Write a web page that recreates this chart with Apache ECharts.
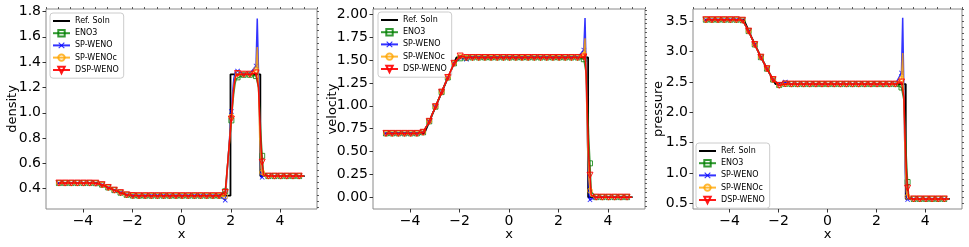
<!DOCTYPE html>
<html><head><meta charset="utf-8">
<script src="https://cdn.jsdelivr.net/npm/echarts@6/dist/echarts.min.js"></script>
<style>html,body{margin:0;padding:0;background:#fff}#c{width:969px;height:247px}</style>
</head><body><div id="c"></div>
<script>
// ---------- DATA ----------
// marker positions (every 5th cell centre)
const MARK_X = [-4.975,-4.725,-4.475,-4.225,-3.975,-3.725,-3.475,-3.225,-2.975,-2.725,-2.475,-2.225,-1.975,-1.725,-1.475,-1.225,-0.975,-0.725,-0.475,-0.225,0.025,0.275,0.525,0.775,1.025,1.275,1.525,1.775,2.025,2.275,2.525,2.775,3.025,3.275,3.525,3.775,4.025,4.275,4.525,4.775];

// reference solution
const REF_X        = [-5, -3.424, -3.1, -2.8, -2.5, -2.127, 1.988, 1.988, 3.2, 3.2, 5];
const REF_DENSITY  = [0.445, 0.445, 0.418, 0.394, 0.371, 0.345, 0.345, 1.304, 1.304, 0.5, 0.5];
const REF_VELOCITY = [0.698, 0.698, 0.906, 1.098, 1.290, 1.529, 1.529, 1.529, 1.529, 0, 0];
const REF_PRESSURE = [3.528, 3.528, 3.232, 2.977, 2.738, 2.466, 2.466, 2.466, 2.466, 0.571, 0.571];

// density at marker positions
const DENSITY_ENO3   = [0.445,0.445,0.445,0.445,0.445,0.445,0.444,0.432,0.410,0.389,0.369,0.352,0.346,0.345,0.345,0.345,0.345,0.345,0.345,0.345,0.345,0.345,0.345,0.345,0.345,0.345,0.345,0.38,0.94,1.28,1.30,1.30,1.29,0.66,0.5,0.5,0.5,0.5,0.5,0.5];
const DENSITY_SPWENO = [0.445,0.445,0.445,0.445,0.445,0.445,0.444,0.432,0.410,0.389,0.369,0.352,0.346,0.345,0.345,0.345,0.345,0.345,0.345,0.345,0.345,0.345,0.345,0.345,0.345,0.345,0.345,0.31,1.01,1.33,1.305,1.31,1.37,0.49,0.5,0.5,0.5,0.5,0.5,0.5];
const DENSITY_SPWENOC= [0.445,0.445,0.445,0.445,0.445,0.445,0.444,0.432,0.410,0.389,0.369,0.352,0.346,0.345,0.345,0.345,0.345,0.345,0.345,0.345,0.345,0.345,0.345,0.345,0.345,0.345,0.345,0.34,0.97,1.31,1.305,1.305,1.34,0.53,0.5,0.5,0.5,0.5,0.5,0.5];
const DENSITY_DSP    = [0.445,0.445,0.445,0.445,0.445,0.445,0.444,0.432,0.410,0.389,0.369,0.352,0.346,0.345,0.345,0.345,0.345,0.345,0.345,0.345,0.345,0.345,0.345,0.345,0.345,0.345,0.345,0.37,0.95,1.31,1.305,1.305,1.315,0.61,0.5,0.5,0.5,0.5,0.5,0.5];
// density between markers (no symbol)
const DENSITY_EXTRA_X      = [2.075,2.125,2.175,2.225,3.075,3.125,3.175,3.225,3.325,4.975];
const DENSITY_EXTRA_ENO3   = [1.06,1.16,1.23,1.27,1.28,1.20,1.02,0.82,0.53,0.5];
const DENSITY_EXTRA_SPWENO = [1.16,1.27,1.32,1.335,1.745,1.33,0.90,0.49,0.5,0.5];
const DENSITY_EXTRA_SPWENOC= [1.10,1.21,1.28,1.305,1.52,1.22,0.80,0.56,0.5,0.5];
const DENSITY_EXTRA_DSP    = [1.08,1.20,1.27,1.30,1.33,1.20,0.97,0.76,0.51,0.5];

// velocity at marker positions
const VELOCITY_ENO3   = [0.698,0.698,0.698,0.698,0.698,0.698,0.71,0.83,0.99,1.15,1.31,1.465,1.52,1.525,1.529,1.529,1.529,1.529,1.529,1.529,1.529,1.529,1.529,1.529,1.529,1.529,1.529,1.529,1.529,1.529,1.529,1.529,1.51,0.37,0,0,0,0,0,0];
const VELOCITY_SPWENO = [0.698,0.698,0.698,0.698,0.698,0.698,0.71,0.83,0.99,1.15,1.31,1.465,1.53,1.51,1.529,1.529,1.529,1.529,1.529,1.529,1.529,1.529,1.529,1.529,1.529,1.529,1.529,1.529,1.529,1.529,1.529,1.529,1.61,-0.03,0,0,0,0,0,0];
const VELOCITY_SPWENOC= [0.698,0.698,0.698,0.698,0.698,0.698,0.71,0.83,0.99,1.15,1.31,1.465,1.54,1.527,1.529,1.529,1.529,1.529,1.529,1.529,1.529,1.529,1.529,1.529,1.529,1.529,1.529,1.529,1.529,1.529,1.529,1.529,1.56,0.07,0,0,0,0,0,0];
const VELOCITY_DSP    = [0.698,0.698,0.698,0.698,0.698,0.698,0.71,0.83,0.99,1.15,1.31,1.465,1.545,1.529,1.529,1.529,1.529,1.529,1.529,1.529,1.529,1.529,1.529,1.529,1.529,1.529,1.529,1.529,1.529,1.529,1.529,1.529,1.535,0.24,0,0,0,0,0,0];
const VELOCITY_EXTRA_X      = [3.075,3.125,3.175,3.225,3.325,4.975];
const VELOCITY_EXTRA_ENO3   = [1.50,1.35,1.00,0.65,0.06,0];
const VELOCITY_EXTRA_SPWENO = [1.96,1.30,0.60,0.05,-0.01,0];
const VELOCITY_EXTRA_SPWENOC= [1.74,1.25,0.60,0.20,0.01,0];
const VELOCITY_EXTRA_DSP    = [1.56,1.32,0.85,0.45,0.02,0];

// pressure at marker positions
const PRESSURE_ENO3   = [3.528,3.528,3.528,3.528,3.528,3.528,3.52,3.34,3.12,2.91,2.72,2.54,2.45,2.47,2.466,2.466,2.466,2.466,2.466,2.466,2.466,2.466,2.466,2.466,2.466,2.466,2.466,2.466,2.466,2.466,2.466,2.466,2.41,0.85,0.571,0.571,0.571,0.571,0.571,0.571];
const PRESSURE_SPWENO = [3.528,3.528,3.528,3.528,3.528,3.528,3.52,3.34,3.12,2.91,2.72,2.54,2.46,2.50,2.466,2.466,2.466,2.466,2.466,2.466,2.466,2.466,2.466,2.466,2.466,2.466,2.466,2.466,2.466,2.466,2.466,2.466,2.65,0.56,0.571,0.571,0.571,0.571,0.571,0.571];
const PRESSURE_SPWENOC= [3.528,3.528,3.528,3.528,3.528,3.528,3.52,3.34,3.12,2.91,2.72,2.54,2.45,2.47,2.466,2.466,2.466,2.466,2.466,2.466,2.466,2.466,2.466,2.466,2.466,2.466,2.466,2.466,2.466,2.466,2.466,2.466,2.55,0.61,0.571,0.571,0.571,0.571,0.571,0.571];
const PRESSURE_DSP    = [3.528,3.528,3.528,3.528,3.528,3.528,3.52,3.34,3.12,2.91,2.72,2.54,2.445,2.468,2.466,2.466,2.466,2.466,2.466,2.466,2.466,2.466,2.466,2.466,2.466,2.466,2.466,2.466,2.466,2.466,2.466,2.466,2.50,0.75,0.571,0.571,0.571,0.571,0.571,0.571];
const PRESSURE_EXTRA_X      = [3.075,3.125,3.175,3.225,3.325,4.975];
const PRESSURE_EXTRA_ENO3   = [2.39,2.20,1.75,1.25,0.60,0.571];
const PRESSURE_EXTRA_SPWENO = [3.56,2.30,1.10,0.58,0.57,0.571];
const PRESSURE_EXTRA_SPWENOC= [2.98,2.15,1.20,0.68,0.575,0.571];
const PRESSURE_EXTRA_DSP    = [2.52,2.25,1.55,1.05,0.58,0.571];

// tick labels
const X_TICKS = [-4, -2, 0, 2, 4];
const Y_TICKS_DENSITY  = [0.4, 0.6, 0.8, 1.0, 1.2, 1.4, 1.6, 1.8];
const Y_TICKS_VELOCITY = [0.00, 0.25, 0.50, 0.75, 1.00, 1.25, 1.50, 1.75, 2.00];
const Y_TICKS_PRESSURE = [0.5, 1.0, 1.5, 2.0, 2.5, 3.0, 3.5];

const SERIES_NAMES = ['Ref. Soln', 'ENO3', 'SP-WENO', 'SP-WENOc', 'DSP-WENO'];

// ---------- CHART ----------
const FONT = 'DejaVu Sans';
const X_PATH = 'path://M0,1.2L1.2,0L5,3.8L8.8,0L10,1.2L6.2,5L10,8.8L8.8,10L5,6.2L1.2,10L0,8.8L3.8,5Z';
const STYLES = [
  {color:'#000000', symbol:'none', width:1.8, opacity:1},
  {color:'#008000', symbol:'rect', size:5, rotate:0, hollow:true, width:1.5, opacity:0.8},
  {color:'#0000ff', symbol:X_PATH, size:5, rotate:0, hollow:false, width:1.5, opacity:0.8},
  {color:'#ffa500', symbol:'circle', size:5, rotate:0, hollow:true, width:1.5, opacity:0.8},
  {color:'#ff0000', symbol:'triangle', size:6, rotate:180, hollow:true, width:1.5, opacity:0.9}
];

const PANELS = [
  {label:'density', nameGap:27, grid:{left:46, top:9, width:271, height:200}, ymin:0.24, ymax:1.82, yticks:Y_TICKS_DENSITY, dec:1, minor:0.05,
   legend:{left:50, top:13}, ref:REF_DENSITY,
   marks:[DENSITY_ENO3, DENSITY_SPWENO, DENSITY_SPWENOC, DENSITY_DSP],
   ex:DENSITY_EXTRA_X, extras:[DENSITY_EXTRA_ENO3, DENSITY_EXTRA_SPWENO, DENSITY_EXTRA_SPWENOC, DENSITY_EXTRA_DSP]},
  {label:'velocity', nameGap:34, grid:{left:373, top:9, width:272, height:200}, ymin:-0.13, ymax:2.06, yticks:Y_TICKS_VELOCITY, dec:2, minor:0.05,
   legend:{left:378, top:12}, ref:REF_VELOCITY,
   marks:[VELOCITY_ENO3, VELOCITY_SPWENO, VELOCITY_SPWENOC, VELOCITY_DSP],
   ex:VELOCITY_EXTRA_X, extras:[VELOCITY_EXTRA_ENO3, VELOCITY_EXTRA_SPWENO, VELOCITY_EXTRA_SPWENOC, VELOCITY_EXTRA_DSP]},
  {label:'pressure', nameGap:28, grid:{left:693, top:9, width:269, height:200}, ymin:0.405, ymax:3.705, yticks:Y_TICKS_PRESSURE, dec:1, minor:0.1,
   legend:{left:696, top:143}, ref:REF_PRESSURE,
   marks:[PRESSURE_ENO3, PRESSURE_SPWENO, PRESSURE_SPWENOC, PRESSURE_DSP],
   ex:PRESSURE_EXTRA_X, extras:[PRESSURE_EXTRA_ENO3, PRESSURE_EXTRA_SPWENO, PRESSURE_EXTRA_SPWENOC, PRESSURE_EXTRA_DSP]}
];

function fmt(v, dec){ return (v < -1e-9 ? '\u2212' : '') + Math.abs(v).toFixed(dec); }
function minorTicks(min, max, step){
  const out = [];
  for (let i = Math.ceil(min/step - 1e-9); i*step <= max + 1e-9; i++) out.push(+(i*step).toFixed(6));
  return out;
}

const grids = [], xAxes = [], yAxes = [], series = [], legends = [];
const tickColor = '#333';
const legendData = SERIES_NAMES.map((n, k) => k === 0
  ? {name:n, itemStyle:{color:'rgba(0,0,0,0)', borderColor:'rgba(0,0,0,0)', borderWidth:0, opacity:0}}
  : {name:n});
PANELS.forEach((p, i) => {
  grids.push(Object.assign({show:true, borderColor:'#8a8a8a', borderWidth:1, backgroundColor:'transparent', containLabel:false}, p.grid));
  // major x
  xAxes.push({type:'value', gridIndex:i, min:-5.5, max:5.5, name:'x', nameLocation:'middle', nameGap:19, nameMoveOverlap:false,
    nameTextStyle:{fontSize:13, fontFamily:FONT, color:'#000'},
    axisLine:{show:false, onZero:false}, splitLine:{show:false},
    axisTick:{show:true, customValues:X_TICKS, length:3.5, lineStyle:{color:tickColor, width:1}},
    axisLabel:{show:true, customValues:X_TICKS, margin:5, fontSize:14, fontFamily:FONT, color:'#000', formatter:v=>fmt(v,0)}});
  // minor x
  xAxes.push({type:'value', gridIndex:i, min:-5.5, max:5.5, axisLine:{show:false, onZero:false}, splitLine:{show:false},
    axisTick:{show:true, customValues:minorTicks(-5.5,5.5,0.5), length:2, lineStyle:{color:tickColor, width:0.8}},
    axisLabel:{show:false}});
  // major y
  yAxes.push({type:'value', gridIndex:i, min:p.ymin, max:p.ymax, name:p.label, nameLocation:'middle', nameGap:p.nameGap, nameMoveOverlap:false,
    nameTextStyle:{fontSize:13, fontFamily:FONT, color:'#000'},
    axisLine:{show:false, onZero:false}, splitLine:{show:false},
    axisTick:{show:true, customValues:p.yticks, length:3.5, lineStyle:{color:tickColor, width:1}},
    axisLabel:{show:true, customValues:p.yticks, margin:5, fontSize:14, fontFamily:FONT, color:'#000', formatter:v=>fmt(v,p.dec)}});
  // minor y
  yAxes.push({type:'value', gridIndex:i, min:p.ymin, max:p.ymax, axisLine:{show:false, onZero:false}, splitLine:{show:false},
    axisTick:{show:true, customValues:minorTicks(p.ymin,p.ymax,p.minor), length:2, lineStyle:{color:tickColor, width:0.8}},
    axisLabel:{show:false}});

  const xi = 2*i, yi = 2*i;
  // reference
  series.push({type:'line', name:SERIES_NAMES[0], xAxisIndex:xi, yAxisIndex:yi, symbol:'none', silent:true,
    lineStyle:{color:STYLES[0].color, width:STYLES[0].width}, itemStyle:{color:STYLES[0].color},
    data:REF_X.map((x,k)=>[x, p.ref[k]]), z:2});
  // schemes
  for (let s = 0; s < 4; s++){
    const st = STYLES[s+1];
    const pts = MARK_X.map((x,k)=>({value:[x, p.marks[s][k]]}));
    p.ex.forEach((x,k)=>pts.push({value:[x, p.extras[s][k]], symbol:'none'}));
    pts.sort((a,b)=>a.value[0]-b.value[0]);
    series.push({type:'line', name:SERIES_NAMES[s+1], xAxisIndex:xi, yAxisIndex:yi,
      symbol:st.symbol, symbolSize:st.size, symbolRotate:st.rotate, showAllSymbol:true, silent:true,
      lineStyle:{color:st.color, width:st.width, opacity:st.opacity},
      itemStyle: st.hollow ? {color:'rgba(255,255,255,0)', borderColor:st.color, borderWidth:1, opacity:st.opacity}
                           : {color:st.color, borderWidth:0, opacity:st.opacity},
      data:pts, z:3+s});
  }
  legends.push({orient:'vertical', left:p.legend.left, top:p.legend.top, data:legendData,
    itemWidth:17, itemHeight:8, itemGap:4, padding:[4,5,4,2], selectedMode:false,
    backgroundColor:'rgba(255,255,255,0.85)', borderColor:'#cccccc', borderWidth:1, borderRadius:3,
    textStyle:{fontSize:8, fontFamily:FONT, color:'#000'}});
});

const chart = echarts.init(document.getElementById('c'), null, {renderer:'canvas'});
chart.setOption({animation:false, backgroundColor:'#fff', grid:grids, xAxis:xAxes, yAxis:yAxes, series:series, legend:legends});
</script></body></html>
